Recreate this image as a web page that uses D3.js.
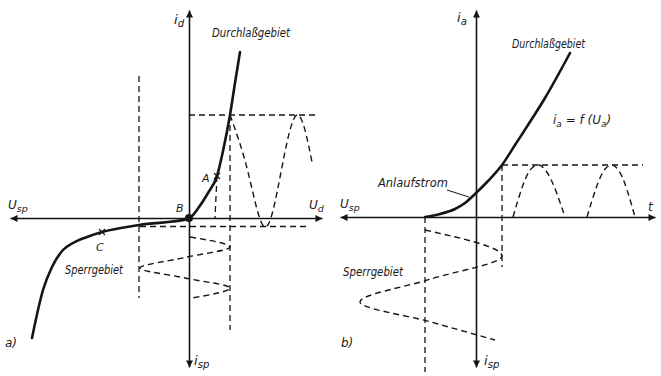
<!DOCTYPE html>
<html><head><meta charset="utf-8">
<script src="https://cdn.jsdelivr.net/npm/d3@7"></script>
<style>
body{margin:0;background:#fff}
svg{display:block}
text{font-family:"Liberation Sans Narrow","DejaVu Sans",sans-serif;font-style:italic;fill:#1a1a1a}
</style>
</head><body><svg id="c" width="661" height="376"></svg>
<script>
// ---------- panel a) : diode characteristic i_d = f(U_d) ----------
const charA_U = [-15.7,-14.6,-13.7,-12.6,-11.6,-10.2,-8.7,-5.0,-0.1,1.0,1.9,2.8,3.4,4.1,4.6,5.1];
const charA_i = [-12.0,-7.2,-4.9,-3.2,-2.5,-1.9,-1.4,-0.7,-0.1,1.1,2.5,4.2,6.7,10.3,13.5,16.6];
// output current wave (time along U axis)
const outA_t = [4.1,5.9,7.6,9.2,10.8,12.3];
const outA_i = [10.3,4.6,-0.9,4.6,10.3,5.6];
// input voltage wave (time downward)
const inA_U = [0.1,4.1,-0.4,-4.9,-0.4,4.1,0.3];
const inA_t = [-1.9,-2.9,-3.95,-5.0,-6.0,-7.0,-8.0];

// ---------- panel b) : tube characteristic i_a = f(U_a) ----------
const charB_U = [-5.1,-3.6,-2.1,-1.1,0,1.2,2.6,3.9,5.2,6.9,9.4];
const charB_i = [0,0.3,0.8,1.4,2.4,3.6,5.2,7.2,9.2,11.9,16.4];
// rectified output pulses
const outB1_t = [3.7,5.6,6.3,7.0,8.9];
const outB2_t = [11.1,13.0,13.6,14.3,15.9];
const outB_i  = [0,4.9,5.2,4.6,0];
// input voltage wave (time downward)
const inB_U = [-5.1,2.6,-4.5,-11.6,-4.5,1.9];
const inB_t = [-1.3,-3.9,-6.2,-8.5,-10.5,-12.3];

const svg = d3.select("#c");
const ink = "#151515";

// scales
const xL = d3.scaleLinear().domain([-17.9,13.3]).range([10,322]);
const yL = d3.scaleLinear().domain([-14.9,20.8]).range([367,10]);
const xR = d3.scaleLinear().domain([-13.6,17.9]).range([340,655]);
const yR = d3.scaleLinear().domain([-15.0,20.7]).range([367,10]);

// arrow marker
const defs = svg.append("defs");
defs.append("marker").attr("id","arr").attr("viewBox","0 0 10 10")
  .attr("refX",10).attr("refY",5).attr("markerWidth",11).attr("markerHeight",7)
  .attr("markerUnits","userSpaceOnUse").attr("orient","auto-start-reverse")
  .append("path").attr("d","M0,0 L10,5 L0,10 z").attr("fill",ink);

function axes(xs, ys){
  const gx = svg.append("g").attr("transform",`translate(0,${ys(0)})`)
    .call(d3.axisBottom(xs).tickValues([]).tickSizeOuter(0));
  gx.select(".domain").attr("stroke",ink).attr("stroke-width",1.6)
    .attr("marker-start","url(#arr)").attr("marker-end","url(#arr)");
  const gy = svg.append("g").attr("transform",`translate(${xs(0)},0)`)
    .call(d3.axisLeft(ys).tickValues([]).tickSizeOuter(0));
  gy.select(".domain").attr("stroke",ink).attr("stroke-width",1.6)
    .attr("marker-start","url(#arr)").attr("marker-end","url(#arr)");
}
axes(xL,yL);
axes(xR,yR);

const dash = "6,4";
function dline(xs,ys,x1,y1,x2,y2){
  svg.append("line").attr("x1",xs(x1)).attr("y1",ys(y1)).attr("x2",xs(x2)).attr("y2",ys(y2))
    .attr("stroke",ink).attr("stroke-width",1.3).attr("stroke-dasharray",dash);
}
function curve(xs,ys,X,Y,c,w,dashed){
  const pts = X.map((v,i)=>[xs(v),ys(Y[i])]);
  const p = svg.append("path").attr("d",d3.line().curve(c)(pts))
    .attr("fill","none").attr("stroke",ink).attr("stroke-width",w)
    .attr("stroke-linecap","round").attr("stroke-linejoin","round");
  if(dashed) p.attr("stroke-dasharray",dash).attr("stroke-linecap","butt");
}

// ----- panel a) guide lines -----
dline(xL,yL,0,10.3,12.8,10.3);
dline(xL,yL,-4.9,-0.85,11.8,-0.85);
dline(xL,yL,-5.0,14.2,-5.0,-8.0);
dline(xL,yL,4.1,10.3,4.1,-11.2);
dline(xL,yL,2.8,4.2,2.6,0);

curve(xL,yL,outA_t,outA_i,d3.curveNatural,1.4,true);
curve(xL,yL,inA_U,inA_t,d3.curveMonotoneY,1.4,true);
curve(xL,yL,charA_U,charA_i,d3.curveMonotoneX,2.6,false);

svg.append("circle").attr("cx",xL(0)).attr("cy",yL(0)).attr("r",4).attr("fill",ink);

function xmark(xs,ys,x,y){
  const cx=xs(x), cy=ys(y), s=3;
  svg.append("path").attr("d",`M${cx-s},${cy-s}L${cx+s},${cy+s}M${cx-s},${cy+s}L${cx+s},${cy-s}`)
    .attr("stroke",ink).attr("stroke-width",1.1);
}
xmark(xL,yL,2.8,4.2);
xmark(xL,yL,-8.7,-1.4);

// ----- panel b) guide lines -----
dline(xR,yR,2.6,5.2,16.7,5.2);
dline(xR,yR,2.6,5.2,2.6,-5.0);
dline(xR,yR,-5.1,0,-5.1,-15.5);

curve(xR,yR,outB1_t,outB_i,d3.curveMonotoneX,1.4,true);
curve(xR,yR,outB2_t,outB_i,d3.curveMonotoneX,1.4,true);
curve(xR,yR,inB_U,inB_t,d3.curveMonotoneY,1.4,true);
curve(xR,yR,charB_U,charB_i,d3.curveMonotoneX,2.6,false);

// leader line for Anlaufstrom
svg.append("line").attr("x1",xR(-2.9)).attr("y1",yR(2.7)).attr("x2",xR(-0.7)).attr("y2",yR(2.0))
  .attr("stroke",ink).attr("stroke-width",1);

// ----- text -----
function label(x,y,main,sub,size,len){
  const t = svg.append("text").attr("x",x).attr("y",y).attr("font-size",size);
  t.append("tspan").text(main);
  if(sub) t.append("tspan").attr("dy",3).attr("font-size",size*0.78).text(sub);
  if(len) t.attr("textLength",len).attr("lengthAdjust","spacingAndGlyphs");
  return t;
}
label(212,37,"Durchlaßgebiet",null,12,78);
label(174,24,"i","d",13);
label(8,209,"U","sp",12);
label(309,209,"U","d",12);
label(176,212,"B",null,11);
label(202,182,"A",null,11);
label(96,251,"C",null,11);
label(65,274,"Sperrgebiet",null,12,58);
label(194,365,"i","sp",13);
label(5,347,"a)",null,12);

label(457,22,"i","a",13);
label(512,48,"Durchlaßgebiet",null,12,73);
const f = svg.append("text").attr("x",553).attr("y",124).attr("font-size",12);
f.append("tspan").text("i");
f.append("tspan").attr("dy",3).attr("font-size",9).text("a");
f.append("tspan").attr("dy",-3).text(" = f (U");
f.append("tspan").attr("dy",3).attr("font-size",9).text("a");
f.append("tspan").attr("dy",-3).text(")");
label(378,187,"Anlaufstrom",null,12,70);
label(340,208,"U","sp",12);
label(648,211,"t",null,12);
label(343,276,"Sperrgebiet",null,12,60);
label(341,347,"b)",null,12);
label(484,365,"i","sp",13);
</script>
</body></html>
